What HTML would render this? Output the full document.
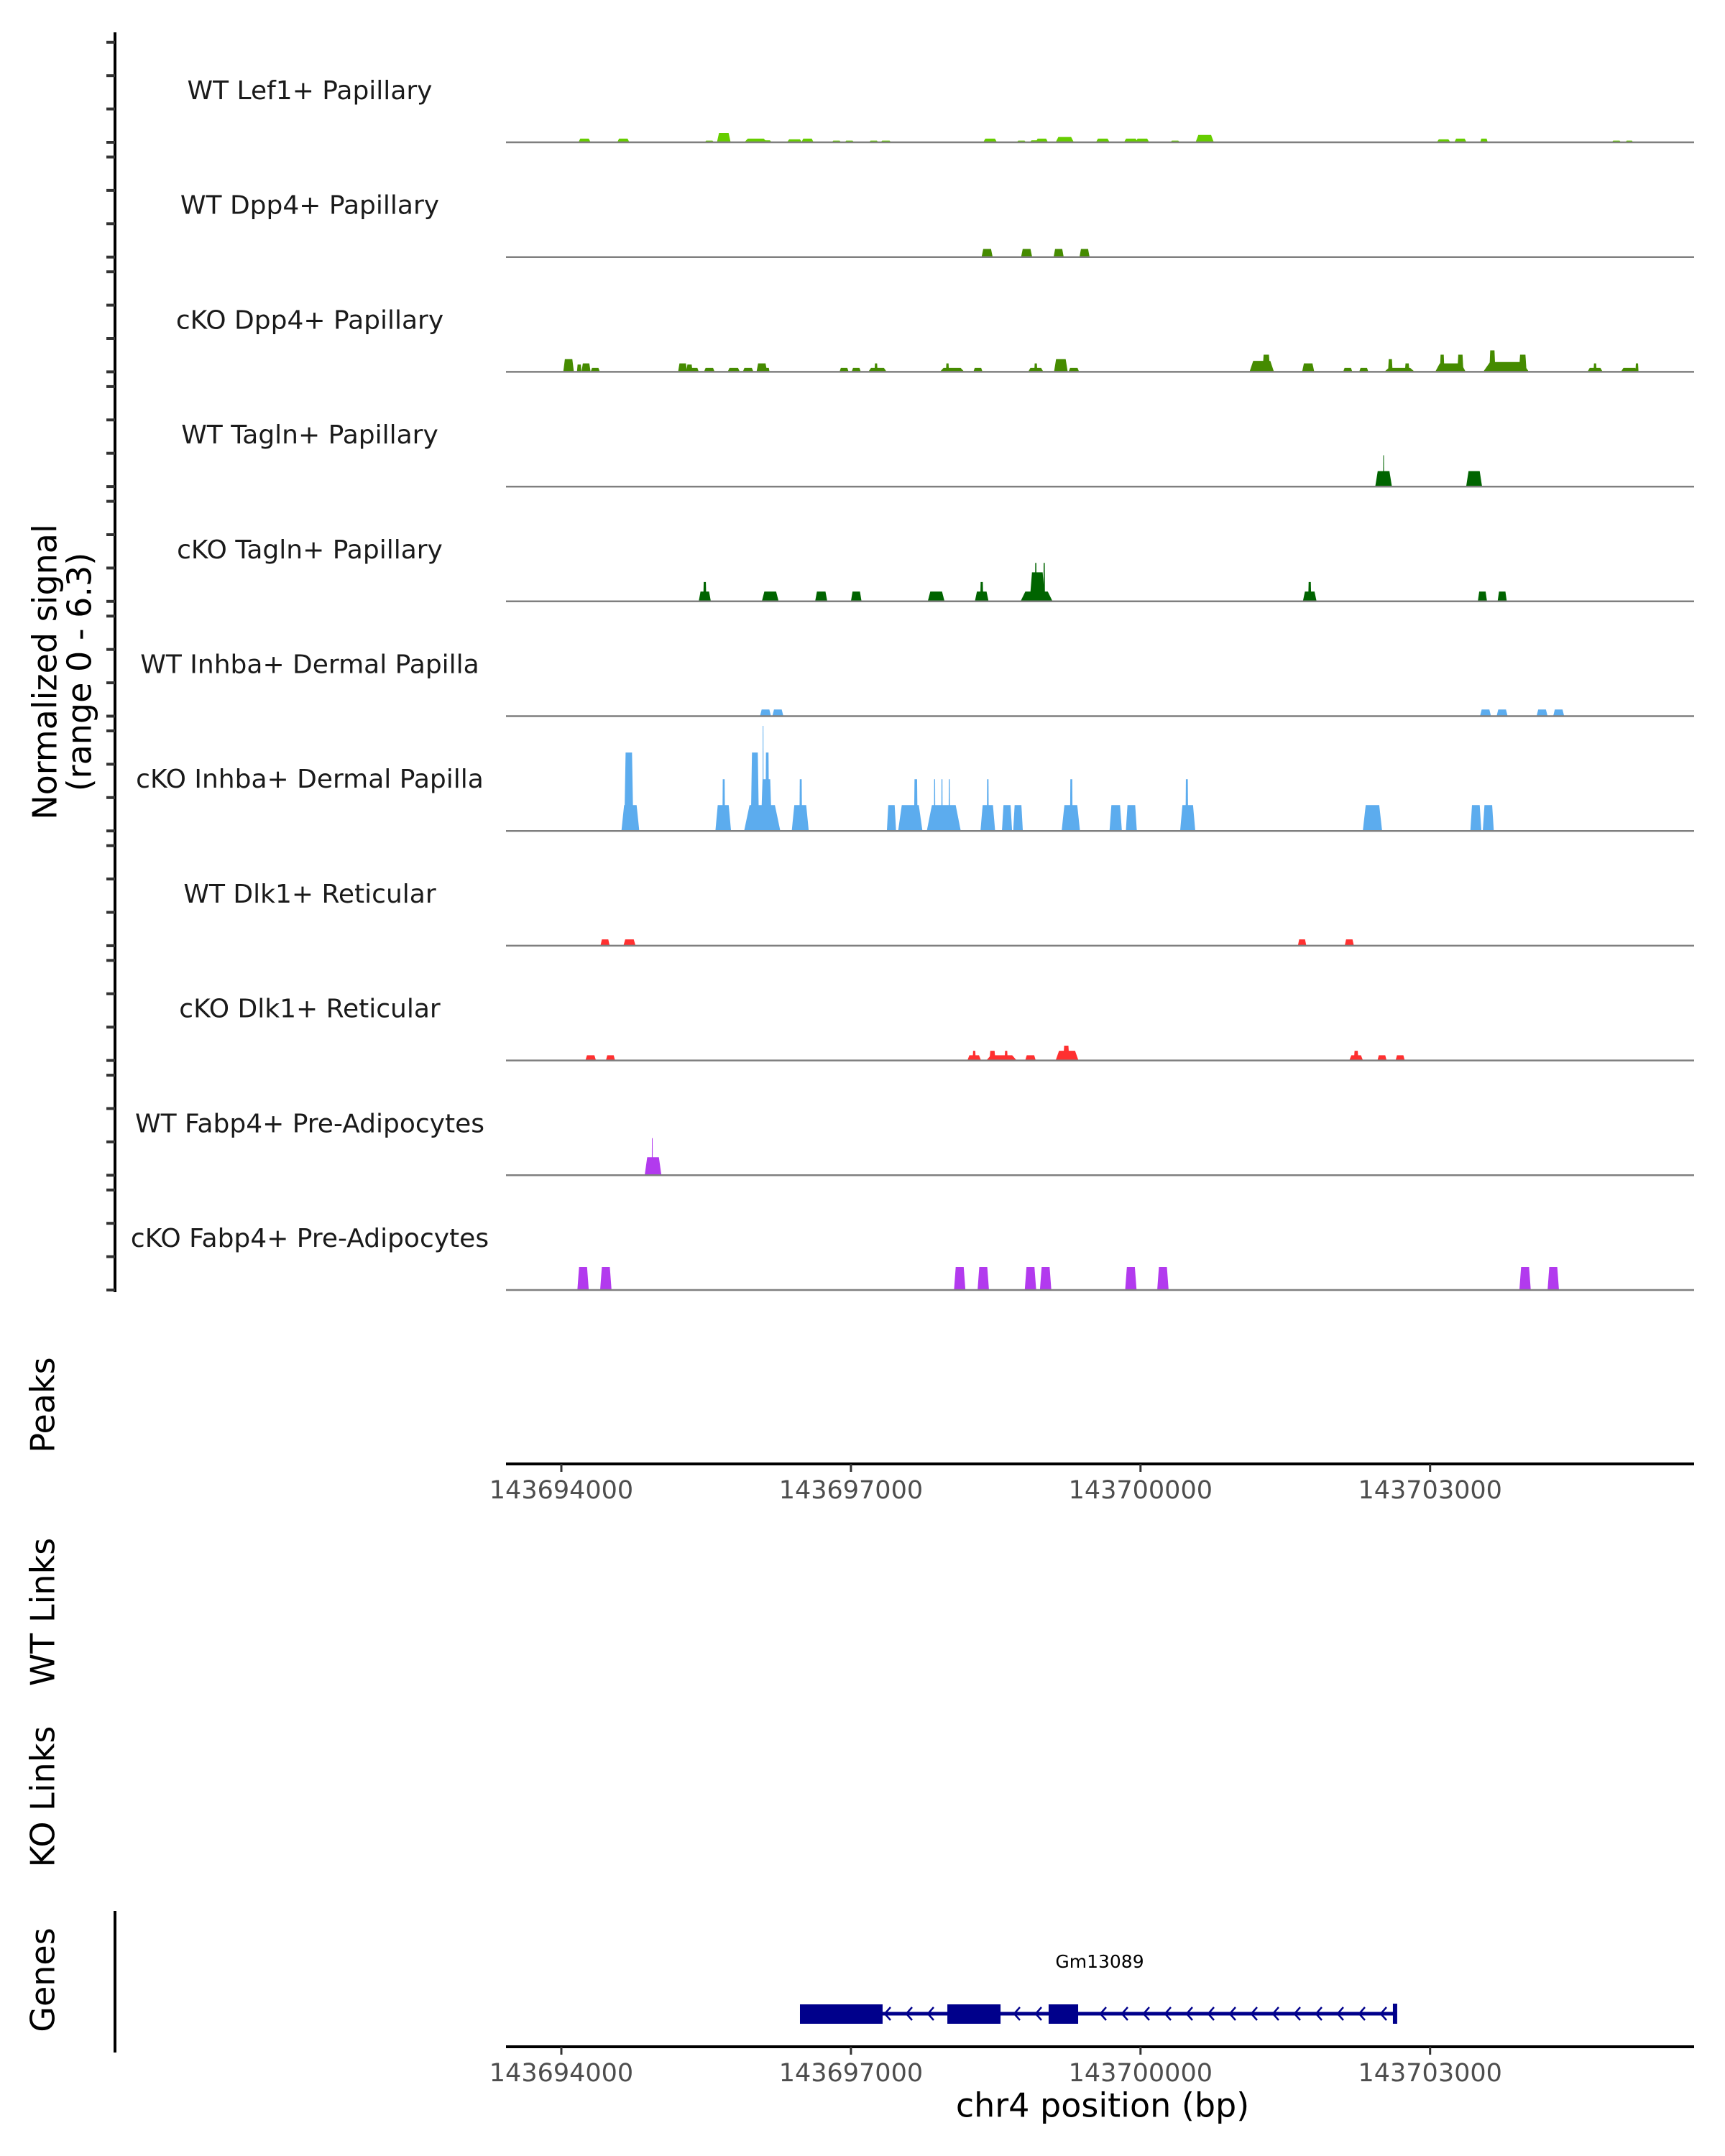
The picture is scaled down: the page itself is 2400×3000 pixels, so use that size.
<!DOCTYPE html>
<html><head><meta charset="utf-8"><style>
html,body{margin:0;padding:0;background:#fff;}
svg{display:block;font-family:"DejaVu Sans","Liberation Sans",sans-serif;}
</style></head><body>
<svg id="chart" width="2400" height="3000" viewBox="0 0 2400 3000" xmlns="http://www.w3.org/2000/svg"></svg>
<script>
// ---- data (positions are bp offsets from 143694000, heights in normalized signal) ----
const trackNames = ["WT Lef1+ Papillary","WT Dpp4+ Papillary","cKO Dpp4+ Papillary","WT Tagln+ Papillary","cKO Tagln+ Papillary","WT Inhba+ Dermal Papilla","cKO Inhba+ Dermal Papilla","WT Dlk1+ Reticular","cKO Dlk1+ Reticular","WT Fabp4+ Pre-Adipocytes","cKO Fabp4+ Pre-Adipocytes"];
const trackColors = ["#66CD00","#458B00","#458B00","#006400","#006400","#5CACEE","#5CACEE","#FF3030","#FF3030","#B23AEE","#B23AEE"];
// each peak: [center, width, height]
const lef1WT = [[240,126,0.22],[642,126,0.22],[1533,95,0.1],[1683,142,0.56],[2014,236,0.22],[2117,126,0.12],[2416,158,0.18],[2550,126,0.22],[2850,95,0.1],[2984,95,0.1],[3236,95,0.1],[3362,110,0.1],[4442,142,0.22],[4766,95,0.1],[4915,126,0.12],[4978,126,0.22],[5215,189,0.32],[5609,142,0.22],[5900,142,0.22],[6019,142,0.22],[6358,95,0.1],[6665,189,0.44],[9140,142,0.18],[9314,126,0.22],[9558,79,0.22],[10930,95,0.1],[11064,79,0.1]];
const dpp4WT = [[4411,115,0.49],[4820,115,0.49],[5152,105,0.49],[5420,105,0.49]];
const dpp4KO = [[75,110,0.76],[185,47,0.44],[256,95,0.51],[351,95,0.24],[1257,95,0.51],[1328,63,0.44],[1376,95,0.24],[1533,110,0.24],[1786,126,0.24],[1935,110,0.24],[2077,110,0.51],[2133,47,0.24],[2929,95,0.24],[3055,95,0.24],[3260,32,0.51],[3275,190,0.24],[4000,32,0.51],[4048,253,0.24],[4316,95,0.24],[4915,158,0.24],[4915,32,0.51],[5175,142,0.76],[5309,110,0.24],[7256,253,0.66],[7303,79,1.03],[7737,126,0.51],[8147,95,0.24],[8313,95,0.24],[8588,47,0.76],[8683,316,0.24],[8762,47,0.51],[9125,47,1.03],[9211,316,0.51],[9314,63,1.03],[9645,63,1.29],[9787,474,0.59],[9960,79,1.03],[10709,158,0.24],[10709,32,0.51],[11064,174,0.24],[11143,32,0.51]];
const taglnWT = [[8518,173,0.93],[8518,10,1.88],[9456,165,0.93]];
const taglnKO = [[1486,126,0.59],[1486,32,1.16],[2164,174,0.59],[2692,126,0.59],[3055,110,0.59],[3883,174,0.59],[4355,142,0.59],[4355,32,1.16],[4923,332,0.59],[4931,158,1.74],[4915,16,2.31],[5002,16,2.31],[7753,142,0.59],[7753,32,1.16],[9542,95,0.59],[9747,95,0.59]];
const inhbaWT = [[2115,114,0.4],[2243,114,0.4],[9574,114,0.4],[9746,114,0.4],[10160,114,0.4],[10332,114,0.4]];
const inhbaKO = [[715,185,1.55],[699,95,4.7],[1677,162,1.55],[1682,28,3.1],[2081,375,1.55],[2005,86,4.7],[2124,114,3.1],[2133,38,4.7],[2090,10,6.3],[2475,176,1.55],[2480,28,3.1],[3420,95,1.55],[3615,252,1.55],[3672,38,3.1],[3962,352,1.55],[3867,14,3.1],[3943,14,3.1],[4019,14,3.1],[4418,152,1.55],[4418,20,3.1],[4617,105,1.55],[4731,100,1.55],[5278,190,1.55],[5283,28,3.1],[5743,128,1.55],[5905,114,1.55],[6489,157,1.55],[6480,28,3.1],[8403,200,1.55],[9474,114,1.55],[9603,114,1.55]];
const dlk1WT = [[453,95,0.38],[706,126,0.38],[7674,87,0.38],[8163,95,0.38]];
const dlk1KO = [[304,110,0.31],[509,95,0.31],[4277,142,0.31],[4277,32,0.58],[4466,63,0.58],[4560,316,0.31],[4608,32,0.58],[4860,110,0.31],[5239,237,0.58],[5231,63,0.89],[8234,142,0.31],[8234,47,0.58],[8502,95,0.31],[8690,95,0.31]];
const fabp4WT = [[950,173,1.08],[942,10,2.23]];
const fabp4KO = [[225,118,1.38],[461,118,1.38],[4127,118,1.38],[4371,118,1.38],[4860,118,1.38],[5017,118,1.38],[5900,118,1.38],[6232,118,1.38],[9984,118,1.38],[10276,118,1.38]];
const tracks = [lef1WT,dpp4WT,dpp4KO,taglnWT,taglnKO,inhbaWT,inhbaKO,dlk1WT,dlk1KO,fabp4WT,fabp4KO];
const yTicks = [0,2,4,6];
const xTickValues = [143694000,143697000,143700000,143703000];
const geneExons = [[2472,3328],[3999,4550],[5048,5354]];
const geneSpan = [2472,8637];

// ---- scales ----
const ORIGIN = 143694000;
const X0 = 781, XPB = 0.1343;
const XL = 704, XR = 2357;
const xs = p => X0 + p*XPB;
const TRACK_TOP = 198, TRACK_STEP = 159.7, YPU = 23.2;
const base = i => TRACK_TOP + i*TRACK_STEP;
const ys = (i,v) => base(i) - v*YPU;

const svg = document.getElementById('chart');
const NS = 'http://www.w3.org/2000/svg';
function mk(tag, attrs, parent){const e=document.createElementNS(NS,tag);for(const k in attrs)e.setAttribute(k,attrs[k]);(parent||svg).appendChild(e);return e;}
function txt(s, attrs){const e=mk('text',attrs);e.textContent=s;return e;}

// left axis
const ax = mk('line',{x1:160,y1:45,x2:160,y2:base(10)+3,stroke:'#000','stroke-width':4});



tracks.forEach((peaks, i) => {
  const g = mk('g',{});
  
  
  yTicks.forEach(v => {
    const t = mk('line',{x1:148,x2:160,y1:ys(i,v),y2:ys(i,v),stroke:'#333','stroke-width':4},g);
    
    
  });
  const lab = txt(trackNames[i],{x:431,y:base(i)-70,'text-anchor':'middle','dominant-baseline':'middle','font-size':36,fill:'#1a1a1a'});
  g.appendChild(lab);
  
  
  peaks.forEach(p => {
    const c=p[0], w=p[1], h=p[2];
    const xl=xs(c-w/2), xr=xs(c+w/2), sl=(xr-xl)*0.15, yt=ys(i,h), yb=base(i);
    const poly = mk('polygon',{points:`${xl},${yb} ${xl+sl},${yt} ${xr-sl},${yt} ${xr},${yb}`,fill:trackColors[i]},g);
    
    
  });
  const bl = mk('line',{x1:XL,x2:XR,y1:base(i),y2:base(i),stroke:'#7f7f7f','stroke-width':2.5},g);
  
  
});

// y titles
function vtitle(s,x,y,name,size){const t=txt(s,{x:x,y:y,'text-anchor':'middle','dominant-baseline':'middle','font-size':size||46,fill:'#000',transform:`rotate(-90 ${x} ${y})`});}
vtitle('Normalized signal',66,935,'y-axis-title');
vtitle('(range 0 - 6.3)',114,935,'y-axis-range');
vtitle('Peaks',63,1955,'peaks-title');
vtitle('WT Links',63,2243,'wt-links-title');
vtitle('KO Links',63,2500,'ko-links-title');
vtitle('Genes',63,2755,'genes-title');

// x axes
function xaxis(y,name){
  const l=mk('line',{x1:XL,x2:XR,y1:y,y2:y,stroke:'#000','stroke-width':4});
  
  
  xTickValues.forEach(v=>{
    const x=xs(v-ORIGIN);
    const t=mk('line',{x1:x,x2:x,y1:y,y2:y+11,stroke:'#333','stroke-width':3});
    
    
    const tl=txt(String(v),{x:x,y:y+38,'text-anchor':'middle','dominant-baseline':'middle','font-size':35,fill:'#4d4d4d'});
    
    
  });
}
xaxis(2037,'peaks-x-axis');
xaxis(2848,'genes-x-axis');
const xt=txt('chr4 position (bp)',{x:1534,y:2933,'text-anchor':'middle','dominant-baseline':'middle','font-size':46,fill:'#000'});



// genes axis line
const ga=mk('line',{x1:160,x2:160,y1:2659,y2:2856,stroke:'#000','stroke-width':4});



// gene model
const gg=mk('g',{});


const GY=2802;
mk('line',{x1:xs(geneSpan[0]),x2:xs(geneSpan[1]),y1:GY,y2:GY,stroke:'#00008B','stroke-width':5},gg);
geneExons.forEach(e=>{
  const r=mk('rect',{x:xs(e[0]),y:GY-13,width:xs(e[1])-xs(e[0]),height:27,fill:'#00008B'},gg);
  
  
});
mk('line',{x1:xs(geneSpan[1]),x2:xs(geneSpan[1]),y1:GY-14,y2:GY+14,stroke:'#00008B','stroke-width':6},gg);
for(let x=xs(geneSpan[0])+30;x<xs(geneSpan[1])-5;x+=30){
  const inExon=geneExons.some(e=>x>xs(e[0])-8&&x<xs(e[1])+4);
  if(inExon)continue;
  mk('polyline',{points:`${x+6},${GY-9} ${x-2},${GY} ${x+6},${GY+9}`,fill:'none',stroke:'#00008B','stroke-width':2.5},gg);
}
const gl=txt('Gm13089',{x:1530,y:2731,'text-anchor':'middle','dominant-baseline':'middle','font-size':25,fill:'#000'});


</script>
</body></html>
